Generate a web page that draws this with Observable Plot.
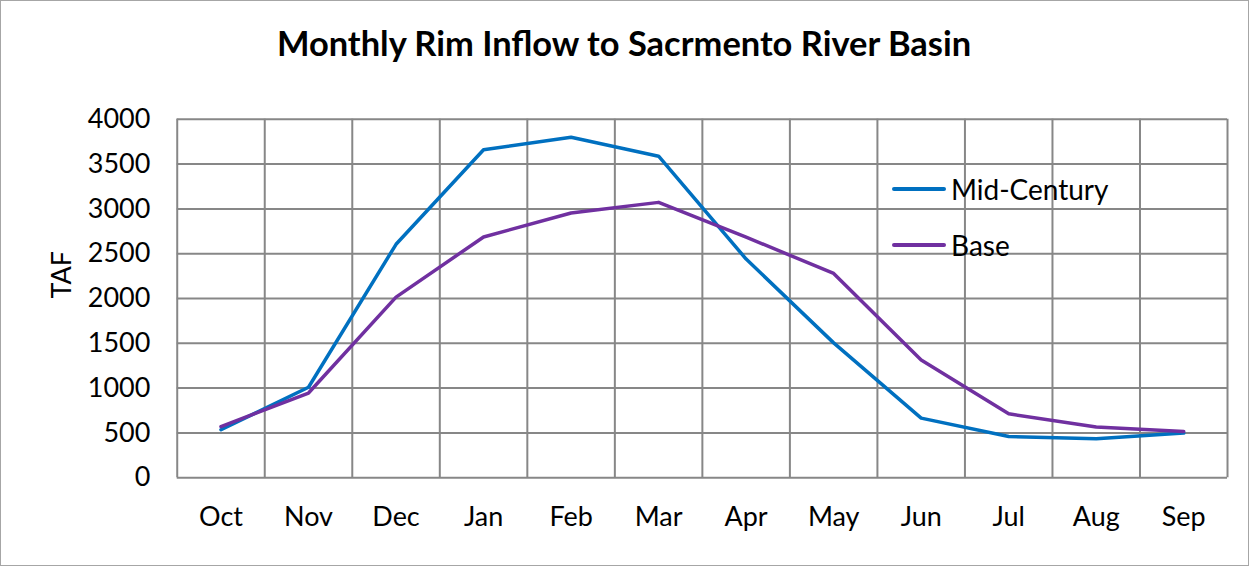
<!DOCTYPE html>
<html>
<head>
<meta charset="utf-8">
<script src="https://cdn.jsdelivr.net/npm/d3@7"></script>
<script src="https://cdn.jsdelivr.net/npm/@observablehq/plot@0.6"></script>
<style>
  html, body { margin: 0; padding: 0; background: #fff; }
  #wrap { position: relative; width: 1249px; height: 566px; box-sizing: border-box; border: 1.5px solid #a6a6a6; overflow: hidden; }
  #wrap svg { position: absolute; left: -1.5px; top: -1.5px; }
  .legend { position: absolute; left: 891px; font-family: Lato, "Open Sans", sans-serif; font-size: 28px; color: #000; display: flex; align-items: center; }
  .legend .sw { display: inline-block; width: 54px; height: 4px; margin-right: 5px; border-radius: 2px; }
</style>
</head>
<body>
<div id="wrap"></div>
<script>
const months = ["Oct","Nov","Dec","Jan","Feb","Mar","Apr","May","Jun","Jul","Aug","Sep"];
const midCentury = [535, 1010, 2605, 3660, 3800, 3588, 2440, 1505, 665, 460, 435, 498];
const base = [571, 945, 2015, 2687, 2955, 3073, 2685, 2280, 1314, 713, 566, 516];
const seriesNames = ["Mid-Century", "Base"];
const seriesColors = ["#0070C0", "#7030A0"];
const yTicks = [0, 500, 1000, 1500, 2000, 2500, 3000, 3500, 4000];
const title = "Monthly Rim Inflow to Sacrmento River Basin";
const yLabel = "TAF";

const rows = [];
months.forEach((m, i) => {
  rows.push({series: seriesNames[0], i: i + 0.5, v: midCentury[i]});
  rows.push({series: seriesNames[1], i: i + 0.5, v: base[i]});
});
const bounds = d3.range(months.length + 1);

const chart = Plot.plot({
  width: 1249,
  height: 566,
  marginLeft: 177,
  marginRight: 20,
  marginTop: 119,
  marginBottom: 88,
  style: {fontFamily: "Lato, 'Open Sans', sans-serif", fontSize: "27px", color: "#000", background: "transparent"},
  x: {type: "linear", domain: [0, months.length], axis: null},
  y: {domain: [0, 4000], axis: null},
  color: {domain: seriesNames, range: seriesColors},
  marks: [
    Plot.ruleY(yTicks, {stroke: "#878787", strokeWidth: 2, strokeOpacity: 1}),
    Plot.ruleX(bounds, {stroke: "#878787", strokeWidth: 2, strokeOpacity: 1}),
    Plot.axisY({ticks: yTicks, tickFormat: d => String(d), tickSize: 0, tickPadding: 27, label: null, fontSize: 27}),
    Plot.axisX({ticks: months.map((m, i) => i + 0.5), tickFormat: d => months[Math.floor(d)], tickSize: 0, tickPadding: 29, label: null, fontSize: 27}),
    Plot.line(rows, {x: "i", y: "v", z: "series", stroke: "series", strokeWidth: 3.5, strokeLinejoin: "round"}),
    Plot.text([yLabel], {frameAnchor: "left", dx: -115, rotate: -90, text: d => d, fontSize: 27}),
    Plot.text([title], {frameAnchor: "top", lineAnchor: "middle", dy: -74, dx: -78.5, text: d => d, fontSize: 34.5, fontWeight: "bold"})
  ]
});

const wrap = document.getElementById("wrap");
wrap.appendChild(chart);
const legendY = [188, 244];
seriesNames.forEach((name, k) => {
  const row = document.createElement("div");
  row.className = "legend";
  row.style.top = (legendY[k] - 18) + "px";
  row.style.height = "36px";
  const sw = document.createElement("span");
  sw.className = "sw";
  sw.style.background = seriesColors[k];
  row.appendChild(sw);
  row.appendChild(document.createTextNode(name));
  wrap.appendChild(row);
});
</script>
</body>
</html>
